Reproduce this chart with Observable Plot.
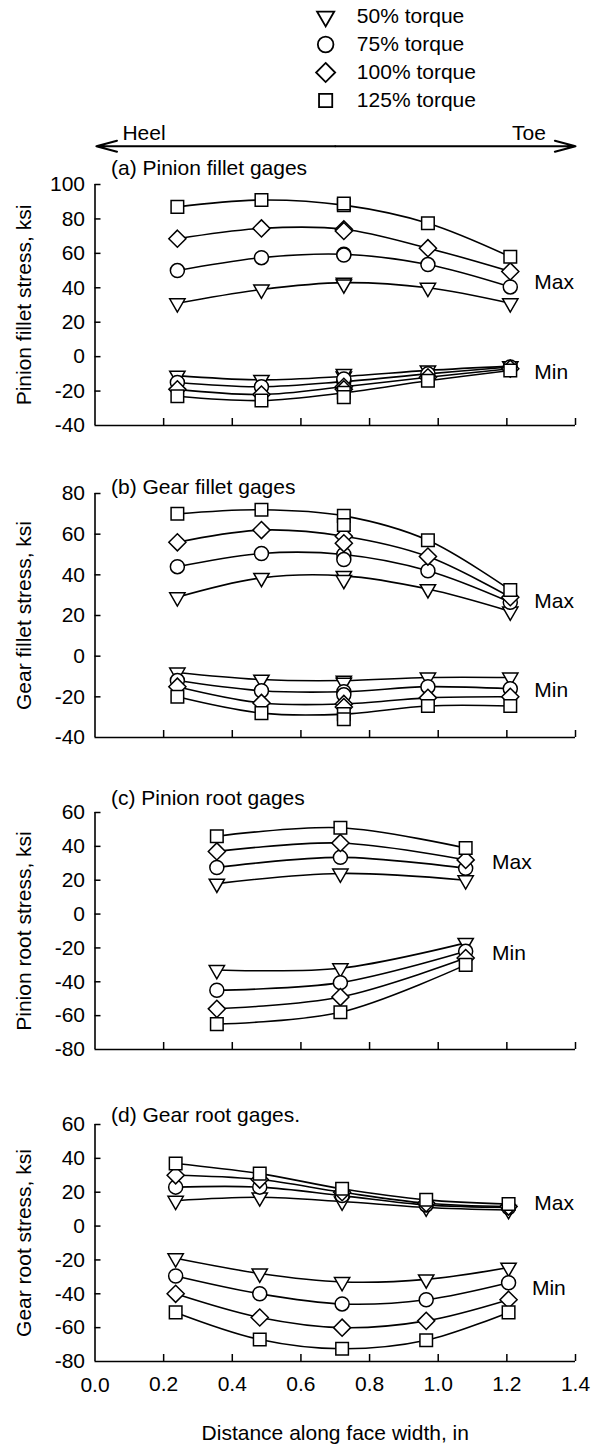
<!DOCTYPE html>
<html>
<head>
<meta charset="utf-8">
<script src="https://cdn.jsdelivr.net/npm/d3@7"></script>
<script src="https://cdn.jsdelivr.net/npm/@observablehq/plot@0.6"></script>
<style>
  html, body { margin: 0; padding: 0; background: #fff; }
  body { width: 597px; height: 1444px; overflow: hidden; }
  #chart > svg { display: block; }
</style>
</head>
<body>
<div id="chart"></div>
<script>
// ---------------- data ----------------
const series = ["50% torque", "75% torque", "100% torque", "125% torque"];
const xTicks = [0, 0.2, 0.4, 0.6, 0.8, 1.0, 1.2, 1.4];

// (a) Pinion fillet gages
const aX = [0.24, 0.485, 0.725, 0.97, 1.21];
const aMax = [[31, 39, 43, 40, 31], [50, 57.5, 59.5, 53.5, 40.5], [68.5, 74.5, 74, 63, 49.5], [87, 91, 88, 77.5, 58]];
const aMin = [[-11, -13.5, -11.5, -8, -5.5], [-15, -17.5, -14.5, -10, -6], [-19, -22, -17.5, -12, -7], [-23, -25.5, -21, -14, -8]];
const aExtraX = [0.725];
const aExtraMax = [[42], [59], [73], [89]];
const aExtraMin = [[-10], [-13], [-19], [-23.5]];

// (b) Gear fillet gages
const bX = [0.24, 0.485, 0.725, 0.97, 1.21];
const bMax = [[29, 38.5, 39.5, 33, 22], [44, 50.5, 50, 42, 26.5], [56, 62, 59, 49, 29], [70, 72, 69, 57, 32.5]];
const bMin = [[-8, -11.5, -12, -10.5, -10.5], [-12, -17, -17.5, -15, -16], [-15, -23, -23.5, -20.5, -20], [-20, -28, -28.5, -24.5, -24.5]];
const bExtraX = [0.725];
const bExtraMax = [[37.5], [47.5], [55.5], [64.5]];
const bExtraMin = [[-13], [-19], [-25], [-31]];

// (c) Pinion root gages
const cX = [0.355, 0.715, 1.08];
const cMax = [[18, 24, 20], [27.5, 33.5, 27], [37, 42, 32], [46, 51, 39]];
const cMin = [[-33, -32, -17], [-45, -40.5, -22], [-56, -49, -26], [-65, -58, -30]];

// (d) Gear root gages
const dX = [0.235, 0.48, 0.72, 0.965, 1.205];
const dMax = [[15, 17, 14.5, 11, 9.5], [23, 23, 18, 12.5, 11], [30, 27.5, 20, 13.5, 11.5], [37, 31, 22, 15.5, 13]];
const dMin = [[-19, -28, -33, -31.5, -24.5], [-29.5, -40, -46, -43.5, -33.5], [-40, -54, -60, -56, -43.5], [-51, -67, -72.5, -67.5, -51]];

// text
const panelTitles = ["(a) Pinion fillet gages", "(b) Gear fillet gages", "(c) Pinion root gages", "(d) Gear root gages."];
const yLabels = ["Pinion fillet stress, ksi", "Gear fillet stress, ksi", "Pinion root stress, ksi", "Gear root stress, ksi"];
const xLabel = "Distance along face width, in";
const yDomains = [[-40, 100], [-40, 80], [-80, 60], [-80, 60]];
const noteText = ["Max", "Min"];
const noteX = [[1.28, 1.28], [1.28, 1.28], [1.157, 1.157], [1.28, 1.273]];
const noteY = [[43, -9], [27, -17], [30.5, -23.3], [13.3, -37]];

// ---------------- style / layout ----------------
const FONT = "'Liberation Sans', Arial, Helvetica, sans-serif";
const FS = 21;
const W = 597, ML = 94.5, MR = 22;
const symbols = ["triangle2", "circle", "diamond2", "square2"];
const rotations = [180, 0, 0, 0];
const radii = [7.3, 7.0, 7.7, 8.0];
const legendRadii = [8.2, 7.8, 8.6, 8.4];

function toRows(xs, vals, kind) {
  return vals.flatMap((arr, i) => arr.map((v, j) => ({series: series[i], si: i, kind, x: xs[j], y: v})));
}

const chart = document.getElementById("chart");
const baseStyle = {fontFamily: FONT, fontSize: FS + "px", color: "black", background: "transparent", overflow: "visible"};

// ---- top block: legend + heel/toe arrow ----
const TOP_H = 155;
const legendY = series.map((_, i) => 16 + i * 28);
const legendRows = series.map((s, i) => ({series: s, si: i, y: legendY[i]}));
const arrowY = 145.7;
chart.append(Plot.plot({
  width: W, height: TOP_H, marginLeft: ML, marginRight: MR, marginTop: 0, marginBottom: 0,
  style: baseStyle,
  x: {domain: [0, 1.4], axis: null},
  y: {domain: [TOP_H, 0], axis: null},
  marks: [
    ...series.map((s, i) => Plot.dot(legendRows.filter(d => d.si === i), {
      x: () => 0.672, y: "y", symbol: symbols[i], r: legendRadii[i], rotate: rotations[i],
      fill: "white", stroke: "black", strokeWidth: 1.8
    })),
    Plot.text(legendRows, {x: () => 0.763, y: "y", text: "series", textAnchor: "start", lineAnchor: "middle", fontSize: 21}),
    Plot.arrow([{x1: 0.7, x2: 0.004}, {x1: 0.7, x2: 1.4}], {
      x1: "x1", x2: "x2", y1: () => arrowY, y2: () => arrowY,
      stroke: "black", strokeWidth: 2, headLength: 16, headAngle: 30
    }),
    Plot.text(["Heel"], {x: () => 0.08, y: () => 133, text: d => d, textAnchor: "start", lineAnchor: "middle"}),
    Plot.text(["Toe"], {x: () => 1.314, y: () => 133, text: d => d, textAnchor: "end", lineAnchor: "middle"})
  ]
}));

// ---- panels ----
const panels = [
  {x: aX, max: aMax, min: aMin, ex: aExtraX, exMax: aExtraMax, exMin: aExtraMin, mt: 29, area: 241, mb: 30, titleDy: -16},
  {x: bX, max: bMax, min: bMin, ex: bExtraX, exMax: bExtraMax, exMin: bExtraMin, mt: 38, area: 244, mb: 33, titleDy: -6},
  {x: cX, max: cMax, min: cMin, ex: null, mt: 42, area: 237, mb: 36, titleDy: -14},
  {x: dX, max: dMax, min: dMin, ex: null, mt: 39, area: 237, mb: 83, titleDy: -9}
];

panels.forEach((p, k) => {
  const last = k === panels.length - 1;
  const lineRows = [...toRows(p.x, p.max, "max"), ...toRows(p.x, p.min, "min")];
  const extraRows = p.ex ? [...toRows(p.ex, p.exMax, "max"), ...toRows(p.ex, p.exMin, "min")] : [];
  const allDots = [...lineRows, ...extraRows];
  const [y0, y1] = yDomains[k];
  const yTicks = d3.range(y0, y1 + 1, 20);
  const notes = noteText.map((t, i) => ({t, x: noteX[k][i], y: noteY[k][i]}));
  chart.append(Plot.plot({
    width: W, height: p.mt + p.area + p.mb,
    marginLeft: ML, marginRight: MR, marginTop: p.mt, marginBottom: p.mb,
    style: baseStyle,
    x: {domain: [0, 1.4]},
    y: {domain: [y0, y1]},
    marks: [
      Plot.axisY({ticks: yTicks.slice(1), tickSize: -6, tickPadding: 16, tickFormat: d => String(d), label: null, strokeWidth: 1.5}),
      Plot.text([String(y0)], {frameAnchor: "bottom-left", dx: -10, text: d => d, textAnchor: "end", lineAnchor: "middle"}),
      Plot.axisX({ticks: xTicks.slice(1), tickSize: -7, tickPadding: 22,
        tickFormat: last ? (d => d.toFixed(1)) : (() => ""), label: null, strokeWidth: 1.5}),
      last ? Plot.text(["0.0"], {frameAnchor: "bottom-left", dy: 24, text: d => d, textAnchor: "middle", lineAnchor: "middle"}) : null,
      Plot.ruleX([0], {stroke: "black", strokeWidth: 1.6}),
      Plot.ruleY([y0], {stroke: "black", strokeWidth: 1.6}),
      Plot.line(lineRows, {x: "x", y: "y", z: d => d.series + d.kind, curve: "catmull-rom", stroke: "black", strokeWidth: 1.6}),
      ...series.map((s, i) => Plot.dot(allDots.filter(d => d.si === i), {
        x: "x", y: "y", symbol: symbols[i], r: radii[i], rotate: rotations[i],
        fill: "white", stroke: "black", strokeWidth: 1.5
      })),
      Plot.text(notes, {x: "x", y: "y", text: "t", textAnchor: "start", lineAnchor: "middle"}),
      Plot.text([panelTitles[k]], {frameAnchor: "top-left", dx: 16, dy: p.titleDy, text: d => d, textAnchor: "start", lineAnchor: "middle"}),
      Plot.text([yLabels[k]], {frameAnchor: "left", dx: -70.5, rotate: -90, text: d => d, textAnchor: "middle", lineAnchor: "middle"}),
      last ? Plot.text([xLabel], {frameAnchor: "bottom", dy: 72, text: d => d, textAnchor: "middle", lineAnchor: "middle"}) : null
    ]
  }));
});
</script>
</body>
</html>
